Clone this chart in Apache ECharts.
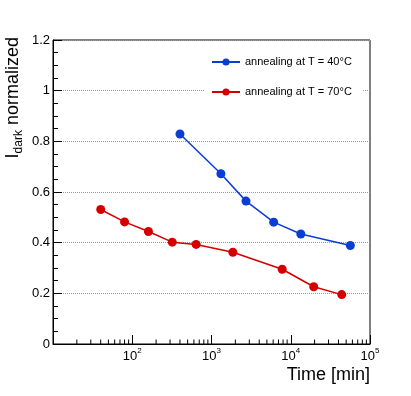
<!DOCTYPE html>
<html>
<head>
<meta charset="utf-8">
<script src="https://cdn.jsdelivr.net/npm/echarts@6/dist/echarts.min.js"></script>
<style>html,body{margin:0;padding:0;background:#fff;}#c{width:411px;height:396px;}</style>
</head>
<body>
<div id="c"></div>
<script>
// Data
const seriesNames = ['annealing at T = 40\u00B0C', 'annealing at T = 70\u00B0C'];
const blueTime = [400, 1315, 2725, 6090, 13400, 56500];
const blueValue = [0.829, 0.672, 0.564, 0.481, 0.434, 0.389];
const redTime = [40, 80, 160, 320, 640, 1860, 7800, 19500, 44000];
const redValue = [0.531, 0.482, 0.444, 0.402, 0.393, 0.362, 0.295, 0.226, 0.195];
const xDecades = [10, 100, 1000, 10000, 100000];
const xTickLabels = ['', '{b|10}{e|2}', '{b|10}{e|3}', '{b|10}{e|4}', '{b|10}{e|5}'];
const yTickValues = [0, 0.2, 0.4, 0.6, 0.8, 1, 1.2];

const minorX = [];
for (let d = 0; d < xDecades.length - 1; d++) {
  for (let m = 2; m <= 9; m++) minorX.push([xDecades[d] * m, 0]);
}

const font = 'Liberation Sans, Arial, Helvetica, sans-serif';
const chart = echarts.init(document.getElementById('c'), null, {renderer: 'canvas'});
chart.setOption({
  animation: false,
  backgroundColor: '#fff',
  grid: {left: 53, right: 41, top: 40, bottom: 52, show: true, borderColor: '#000', borderWidth: 1, backgroundColor: 'transparent'},
  legend: {
    data: seriesNames,
    orient: 'vertical',
    left: 204,
    top: 47,
    padding: [8, 11, 8, 7],
    backgroundColor: '#fff',
    itemWidth: 28,
    itemHeight: 9,
    itemGap: 16,
    textStyle: {fontFamily: font, fontSize: 11, color: '#000', lineHeight: 14}
  },
  xAxis: {
    type: 'log',
    logBase: 10,
    min: 10,
    max: 100000,
    axisLine: {show: true, lineStyle: {color: '#000', width: 1}},
    axisTick: {show: true, inside: true, length: 9, lineStyle: {color: '#000'}},
    splitLine: {show: false},
    axisLabel: {
      margin: 5,
      fontFamily: font,
      color: '#000',
      fontSize: 13,
      formatter: function (v) {
        const i = xDecades.findIndex(d => Math.abs(d - v) / d < 1e-6);
        return i >= 0 ? xTickLabels[i] : '';
      },
      rich: {
        b: {fontSize: 13, fontFamily: font, color: '#000', lineHeight: 14, verticalAlign: 'bottom'},
        e: {fontSize: 8, fontFamily: font, color: '#000', lineHeight: 8, padding: [0, 0, 8, 0], verticalAlign: 'bottom'}
      }
    }
  },
  yAxis: {
    type: 'value',
    min: 0,
    max: 1.2,
    interval: 0.2,
    axisLine: {show: true, lineStyle: {color: '#000', width: 1}},
    axisTick: {show: true, inside: true, length: 9, lineStyle: {color: '#000'}},
    minorTick: {show: true, splitNumber: 4, length: 5, lineStyle: {color: '#000'}},
    splitLine: {show: true, lineStyle: {color: '#999', type: [1, 1], width: 1}},
    axisLabel: {margin: 3, fontFamily: font, fontSize: 13, color: '#000',
      formatter: function (v) {
        const i = yTickValues.findIndex(t => Math.abs(t - v) < 1e-6);
        return i >= 0 ? String(yTickValues[i]) : '';
      }}
  },
  series: [
    {
      name: seriesNames[0], type: 'line',
      data: blueTime.map((t, i) => [t, blueValue[i]]),
      symbol: 'circle', symbolSize: 9,
      lineStyle: {color: '#0a3dd6', width: 1.5},
      itemStyle: {color: '#0a3dd6'},
      z: 5
    },
    {
      name: seriesNames[1], type: 'line',
      data: redTime.map((t, i) => [t, redValue[i]]),
      symbol: 'circle', symbolSize: 9,
      lineStyle: {color: '#d40000', width: 1.5},
      itemStyle: {color: '#d40000'},
      z: 5
    },
    {
      name: 'minorTicks', type: 'custom',
      data: minorX,
      silent: true,
      renderItem: function (params, api) {
        const p = api.coord([api.value(0), 0]);
        return {type: 'line', shape: {x1: p[0], y1: p[1], x2: p[0], y2: p[1] - 4.5},
          style: {stroke: '#000', lineWidth: 1}};
      },
      z: 3
    }
  ],
  graphic: [
    {
      type: 'text', x: 370, y: 375,
      style: {text: 'Time [min]', fontFamily: font, fontSize: 18, fill: '#000', align: 'right', verticalAlign: 'middle'}
    },
    {
      type: 'text', x: 16, y: 37, rotation: Math.PI / 2,
      style: {
        text: '{m|I}{s|dark}{m| normalized}',
        align: 'right', verticalAlign: 'middle',
        rich: {
          m: {fontFamily: font, fontSize: 18, fill: '#000', lineHeight: 18, padding: [0, 0, 3, 0], verticalAlign: 'bottom'},
          s: {fontFamily: font, fontSize: 12, fill: '#000', lineHeight: 12, verticalAlign: 'bottom'}
        }
      }
    }
  ]
});
</script>
</body>
</html>
